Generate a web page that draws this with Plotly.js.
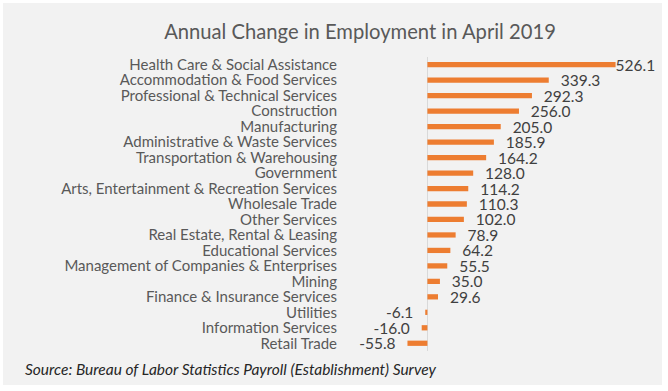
<!DOCTYPE html>
<html>
<head>
<meta charset="utf-8">
<script src="https://cdn.plot.ly/plotly-3.0.1.min.js"></script>
<style>
html,body{margin:0;padding:0;background:#ffffff;}
#chart{position:absolute;left:3px;top:3px;width:659px;height:382px;}
</style>
</head>
<body>
<div id="chart"></div>
<script>
const categories = [
  "Health Care & Social Assistance",
  "Accommodation & Food Services",
  "Professional & Technical Services",
  "Construction",
  "Manufacturing",
  "Administrative & Waste Services",
  "Transportation & Warehousing",
  "Government",
  "Arts, Entertainment & Recreation Services",
  "Wholesale Trade",
  "Other Services",
  "Real Estate, Rental & Leasing",
  "Educational Services",
  "Management of Companies & Enterprises",
  "Mining",
  "Finance & Insurance Services",
  "Utilities",
  "Information Services",
  "Retail Trade"
];
const changes = [526.1, 339.3, 292.3, 256.0, 205.0, 185.9, 164.2, 128.0, 114.2, 110.3, 102.0, 78.9, 64.2, 55.5, 35.0, 29.6, -6.1, -16.0, -55.8];
const chartTitle = "Annual Change in Employment in April 2019";
const sourceNote = "Source: Bureau of Labor Statistics Payroll (Establishment) Survey";

const FONT = "Lato, 'Open Sans', sans-serif";
const pad = "\u00a0\u00a0\u00a0";
const labels = changes.map((v, i) => {
  const s = v.toFixed(1);
  if (i === 0) return s;
  return v < 0 ? s + pad : pad + s;
});

const trace = {
  type: "bar",
  orientation: "h",
  y: categories,
  x: changes,
  width: 0.34,
  marker: {color: "#ED7D31"},
  text: labels,
  textposition: "outside",
  cliponaxis: false,
  constraintext: "none",
  textfont: {family: FONT, size: 15.5, color: "#404040"},
  hoverinfo: "x+y"
};

const layout = {
  width: 659,
  height: 382,
  paper_bgcolor: "#f2f2f2",
  plot_bgcolor: "rgba(0,0,0,0)",
  margin: {l: 335, r: 19.5, t: 54.3, b: 33.6, pad: 0},
  showlegend: false,
  title: {
    text: chartTitle,
    font: {family: FONT, size: 20.2, color: "#595959"},
    x: 357 / 659, xanchor: "center", xref: "container",
    y: 1 - 28.5 / 382, yanchor: "middle", yref: "container"
  },
  xaxis: {
    range: [-250, 600],
    showgrid: false,
    showticklabels: false,
    ticks: "",
    zeroline: true,
    zerolinecolor: "#d9d9d9",
    zerolinewidth: 1,
    showline: false,
    fixedrange: true
  },
  yaxis: {
    type: "category",
    range: [categories.length - 0.5, -0.5],
    tickmode: "array",
    tickvals: categories,
    ticktext: categories,
    showgrid: false,
    ticks: "",
    showline: false,
    zeroline: false,
    ticklabelstandoff: 0,
    tickfont: {family: FONT, size: 15, color: "#595959"},
    fixedrange: true
  },
  annotations: [{
    text: sourceNote,
    xref: "paper", yref: "paper",
    x: (19.5 - 335) / (659 - 335 - 19.5), xanchor: "left",
    y: -(366 - (382 - 33.6)) / (382 - 54.3 - 33.6), yanchor: "middle",
    showarrow: false,
    font: {family: FONT, size: 15.5, color: "#262626", style: "italic"}
  }],
  bargap: 0.66
};

Plotly.newPlot("chart", [trace], layout, {displayModeBar: false, staticPlot: true});
</script>
</body>
</html>
